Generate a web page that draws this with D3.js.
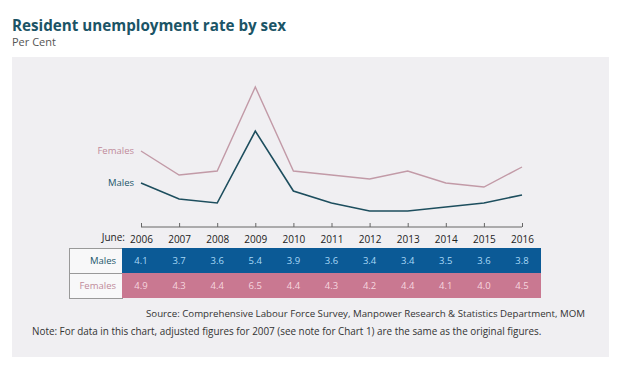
<!DOCTYPE html>
<html>
<head>
<meta charset="utf-8">
<script src="https://cdn.jsdelivr.net/npm/d3@7"></script>
<style>
  html, body { margin: 0; padding: 0; background: #fff; }
  svg { display: block; font-family: "Open Sans", "Noto Sans", sans-serif; }
</style>
</head>
<body>
<svg id="chart" width="624" height="369"></svg>
<script>
// Data
const years = ["2006", "2007", "2008", "2009", "2010", "2011", "2012", "2013", "2014", "2015", "2016"];
const males = [4.1, 3.7, 3.6, 5.4, 3.9, 3.6, 3.4, 3.4, 3.5, 3.6, 3.8];
const females = [4.9, 4.3, 4.4, 6.5, 4.4, 4.3, 4.2, 4.4, 4.1, 4.0, 4.5];

const svg = d3.select("#chart");

// Title block
svg.append("text")
  .attr("x", 12).attr("y", 31)
  .attr("font-size", 15.2).attr("font-weight", "bold")
  .attr("fill", "#1b5466")
  .text("Resident unemployment rate by sex");

svg.append("text")
  .attr("x", 12).attr("y", 46)
  .attr("font-size", 11).attr("fill", "#555")
  .text("Per Cent");

// Grey panel
svg.append("rect")
  .attr("x", 12).attr("y", 57)
  .attr("width", 597).attr("height", 300)
  .attr("fill", "#f0eff2");

// Scales
const x = d3.scalePoint().domain(years).range([141, 522]);
const y = d3.scaleLinear().domain([3, 7]).range([227, 67]);

// Axis along the bottom of the plot, ticks pointing up
const axis = svg.append("g")
  .attr("transform", `translate(0,${y(3)})`)
  .call(d3.axisBottom(x).tickSize(-4).tickPadding(7));
axis.select(".domain").attr("stroke", "#666").attr("d", `M${x("2006")},0H${x("2016")}`);
axis.selectAll(".tick line").attr("stroke", "#666");
axis.selectAll(".tick text")
  .attr("font-size", 10).attr("fill", "#222")
  .attr("font-family", "\"Open Sans\", sans-serif")
  .attr("dy", "0.9em");

svg.append("text")
  .attr("x", 125).attr("y", y(3) + 14)
  .attr("text-anchor", "end")
  .attr("font-size", 10).attr("fill", "#222")
  .text("June:");

// Lines
const line = d3.line().x((d, i) => x(years[i])).y(d => y(d));

svg.append("path")
  .datum(females)
  .attr("d", line)
  .attr("fill", "none")
  .attr("stroke", "#c29aa7")
  .attr("stroke-width", 1.4);

svg.append("path")
  .datum(males)
  .attr("d", line)
  .attr("fill", "none")
  .attr("stroke", "#1d4e5e")
  .attr("stroke-width", 1.6);

// Line labels
svg.append("text")
  .attr("x", 134).attr("y", y(females[0]))
  .attr("dy", "0.35em").attr("text-anchor", "end")
  .attr("font-size", 9.5).attr("fill", "#c08a9a")
  .text("Females");

svg.append("text")
  .attr("x", 134).attr("y", y(males[0]))
  .attr("dy", "0.35em").attr("text-anchor", "end")
  .attr("font-size", 9.5).attr("fill", "#22566a")
  .text("Males");

// Data table below the chart
const rows = [
  { name: "Males", values: males, band: "#0b5a96", text: "#a9d9f6", label: "#22566a" },
  { name: "Females", values: females, band: "#c97891", text: "#f6d6df", label: "#c08a9a" }
];
const rowTop = 248, rowH = 25;

rows.forEach((r, i) => {
  const top = rowTop + i * rowH;
  svg.append("rect")
    .attr("x", 69.5).attr("y", top + 0.5)
    .attr("width", 53).attr("height", rowH)
    .attr("fill", "#f8f8f9")
    .attr("stroke", "#999").attr("stroke-width", 1);
  svg.append("text")
    .attr("x", 116).attr("y", top + rowH / 2)
    .attr("dy", "0.35em").attr("text-anchor", "end")
    .attr("font-size", 9.5).attr("fill", r.label)
    .text(r.name);
  svg.append("rect")
    .attr("x", 122).attr("y", top)
    .attr("width", 419).attr("height", rowH + (i === 0 ? 0.5 : 0))
    .attr("fill", r.band);
  svg.append("g")
    .selectAll("text")
    .data(r.values)
    .join("text")
    .attr("x", (d, j) => x(years[j]))
    .attr("y", top + rowH / 2)
    .attr("dy", "0.35em").attr("text-anchor", "middle")
    .attr("font-size", 9.5).attr("fill", r.text)
    .text(d => d.toFixed(1));
});

// Source and note
svg.append("text")
  .attr("x", 585).attr("y", 317)
  .attr("text-anchor", "end")
  .attr("font-size", 9.7).attr("fill", "#333")
  .text("Source: Comprehensive Labour Force Survey, Manpower Research & Statistics Department, MOM");

svg.append("text")
  .attr("x", 32).attr("y", 335)
  .attr("font-size", 9.9).attr("fill", "#333")
  .text("Note: For data in this chart, adjusted figures for 2007 (see note for Chart 1) are the same as the original figures.");
</script>
</body>
</html>
